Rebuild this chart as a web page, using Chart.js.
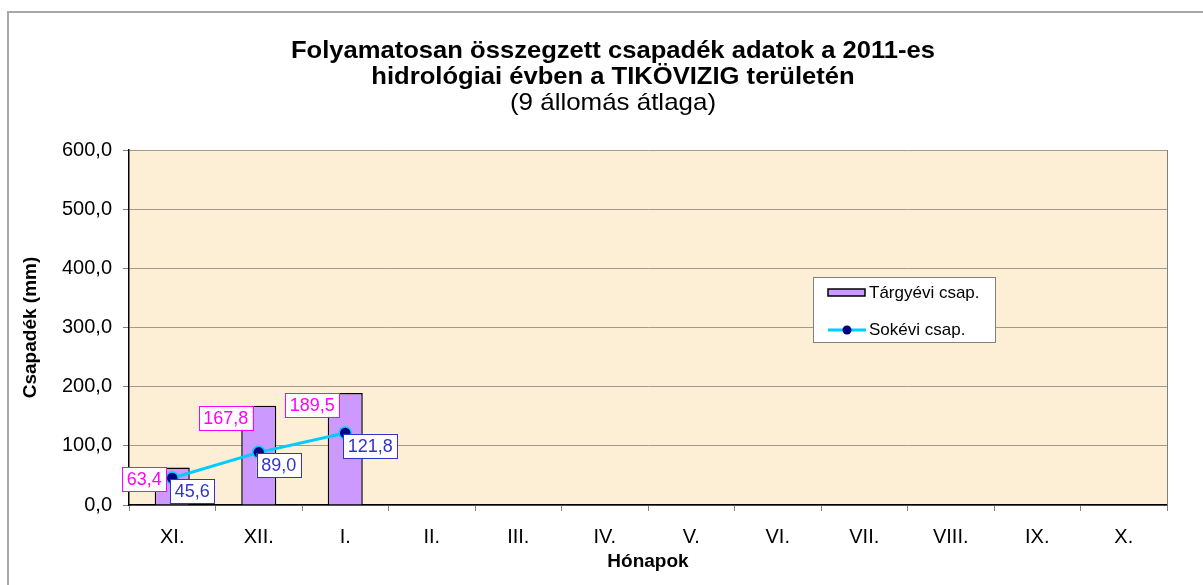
<!DOCTYPE html>
<html>
<head>
<meta charset="utf-8">
<script src="https://cdn.jsdelivr.net/npm/chart.js@4.4.1/dist/chart.umd.min.js"></script>
<style>
  body { margin: 0; background: #fff; }
  canvas { display: block; }
</style>
</head>
<body>
<canvas id="csapadekChart" width="1203" height="585"></canvas>
<script>
// data
const honapok = ["XI.", "XII.", "I.", "II.", "III.", "IV.", "V.", "VI.", "VII.", "VIII.", "IX.", "X."];
const targyeviCsap = [63.4, 167.8, 189.5, null, null, null, null, null, null, null, null, null];
const sokeviCsap = [45.6, 89.0, 121.8, null, null, null, null, null, null, null, null, null];
const yTicks = [0, 100, 200, 300, 400, 500, 600];

const titleLines = [
  "Folyamatosan összegzett csapadék adatok a 2011-es",
  "hidrológiai évben a TIKÖVIZIG területén",
];
const subTitle = "(9 állomás átlaga)";

const FONT = "'Liberation Sans', Arial, sans-serif";
const fmt = (v) => v.toFixed(1).replace(".", ",");

// title text is a bit wider than its height suggests in the original
function stretchedText(ctx, text, x, y, sx) {
  ctx.save();
  ctx.translate(x, y);
  ctx.scale(sx, 1);
  ctx.fillText(text, 0, 0);
  ctx.restore();
}

// background, outer frame, titles
const backgroundPlugin = {
  id: "background",
  beforeDraw(chart) {
    const { ctx, chartArea: a } = chart;
    ctx.save();
    ctx.fillStyle = "#fff";
    ctx.fillRect(0, 0, chart.width, chart.height);
    ctx.strokeStyle = "#a8a8a8";
    ctx.lineWidth = 2;
    ctx.strokeRect(8, 12, chart.width + 50, chart.height + 50);
    ctx.fillStyle = "#fcefd6";
    ctx.fillRect(a.left, a.top, a.right - a.left, a.bottom - a.top);

    ctx.fillStyle = "#000";
    ctx.textAlign = "center";
    ctx.textBaseline = "alphabetic";
    ctx.font = "bold 24px " + FONT;
    stretchedText(ctx, titleLines[0], 613, 58, 1.066);
    stretchedText(ctx, titleLines[1], 613, 84, 1.066);
    ctx.font = "24px " + FONT;
    stretchedText(ctx, subTitle, 613, 110, 1.08);
    ctx.restore();
  },
  afterDatasetsDraw(chart) {
    const { ctx, chartArea: a } = chart;
    ctx.save();
    ctx.strokeStyle = "#808080";
    ctx.lineWidth = 1;
    ctx.beginPath();
    ctx.moveTo(a.right + 0.5, a.top);
    ctx.lineTo(a.right + 0.5, a.bottom);
    ctx.stroke();
    ctx.restore();
  },
};

// value labels in boxes
function drawBox(ctx, text, x, y, color, alignRight) {
  ctx.font = "18px " + FONT;
  const w = ctx.measureText(text).width + 9;
  const h = 24;
  const left = alignRight ? x - w : x;
  ctx.fillStyle = "#fff";
  ctx.fillRect(left, y, w, h);
  ctx.strokeStyle = color;
  ctx.lineWidth = 1;
  ctx.strokeRect(Math.round(left) + 0.5, Math.round(y) + 0.5, Math.round(w), h);
  ctx.fillStyle = color;
  ctx.textAlign = "center";
  ctx.textBaseline = "middle";
  ctx.fillText(text, left + w / 2, y + h / 2 + 1);
}

const labelPlugin = {
  id: "valueLabels",
  afterDatasetsDraw(chart) {
    const { ctx } = chart;
    ctx.save();
    chart.getDatasetMeta(0).data.forEach((bar, i) => {
      const v = targyeviCsap[i];
      if (v == null) return;
      drawBox(ctx, fmt(v), bar.x - 6, bar.y, "#ff00ff", true);
    });
    chart.getDatasetMeta(1).data.forEach((pt, i) => {
      const v = sokeviCsap[i];
      if (v == null) return;
      drawBox(ctx, fmt(v), pt.x - 2, pt.y + 1, "#3333cc", false);
    });
    ctx.restore();
  },
};

// legend box inside the plot
const legendPlugin = {
  id: "boxLegend",
  afterDraw(chart) {
    const { ctx } = chart;
    ctx.save();
    ctx.fillStyle = "#fff";
    ctx.fillRect(813, 277, 182, 65);
    ctx.strokeStyle = "#808080";
    ctx.lineWidth = 1;
    ctx.strokeRect(813.5, 277.5, 182, 65);

    ctx.fillStyle = "#cc99ff";
    ctx.fillRect(828, 289, 37, 7);
    ctx.strokeStyle = "#000";
    ctx.lineWidth = 1.5;
    ctx.strokeRect(828, 289, 37, 7);

    ctx.strokeStyle = "#00ccff";
    ctx.lineWidth = 3;
    ctx.beginPath();
    ctx.moveTo(828, 330);
    ctx.lineTo(866, 330);
    ctx.stroke();
    ctx.fillStyle = "#000080";
    ctx.beginPath();
    ctx.arc(847, 330, 4.5, 0, Math.PI * 2);
    ctx.fill();

    ctx.fillStyle = "#000";
    ctx.font = "17px " + FONT;
    ctx.textAlign = "left";
    ctx.textBaseline = "middle";
    ctx.fillText("Tárgyévi csap.", 869, 293);
    ctx.fillText("Sokévi csap.", 869, 330);
    ctx.restore();
  },
};

new Chart(document.getElementById("csapadekChart"), {
  type: "bar",
  data: {
    labels: honapok,
    datasets: [
      {
        label: "Tárgyévi csap.",
        data: targyeviCsap,
        backgroundColor: "#cc99ff",
        borderColor: "#000",
        borderWidth: 1.5,
        barPercentage: 0.405,
        categoryPercentage: 1,
        order: 2,
      },
      {
        type: "line",
        label: "Sokévi csap.",
        data: sokeviCsap,
        borderColor: "#00ccff",
        borderWidth: 3,
        pointBackgroundColor: "#000080",
        pointBorderColor: "#00ccff",
        pointBorderWidth: 1.5,
        pointRadius: 6,
        fill: false,
        tension: 0,
        order: 1,
      },
    ],
  },
  options: {
    responsive: false,
    animation: false,
    devicePixelRatio: 1,
    layout: { padding: { top: 150, right: 36, left: 0, bottom: 0 } },
    plugins: {
      legend: { display: false },
      title: { display: false },
      tooltip: { enabled: false },
    },
    scales: {
      x: {
        offset: true,
        grid: {
          offset: true,
          drawOnChartArea: false,
          drawTicks: true,
          tickLength: 6,
          color: "#808080",
        },
        border: { display: true, color: "#000", width: 1.5 },
        ticks: {
          color: "#000",
          font: { family: FONT, size: 20 },
          padding: 14,
          maxRotation: 0,
          autoSkip: false,
        },
        title: {
          display: true,
          text: "Hónapok",
          color: "#000",
          font: { family: FONT, size: 19, weight: "bold" },
          padding: { top: 0, bottom: 12 },
        },
        afterFit(s) { s.height = 80; },
      },
      y: {
        min: 0,
        max: 600,
        afterBuildTicks(s) { s.ticks = yTicks.map((v) => ({ value: v })); },
        grid: {
          color: "#a39a8c",
          tickLength: 6,
          tickColor: "#808080",
        },
        border: { display: true, color: "#000", width: 1.5 },
        ticks: {
          color: "#000",
          font: { family: FONT, size: 20 },
          padding: 11,
          callback: (v) => fmt(v),
        },
        title: {
          display: true,
          text: "Csapadék (mm)",
          color: "#000",
          font: { family: FONT, size: 19, weight: "bold" },
          padding: { top: 19, bottom: 0 },
        },
        afterFit(s) { s.width = 129; },
      },
    },
  },
  plugins: [backgroundPlugin, labelPlugin, legendPlugin],
});
</script>
</body>
</html>
